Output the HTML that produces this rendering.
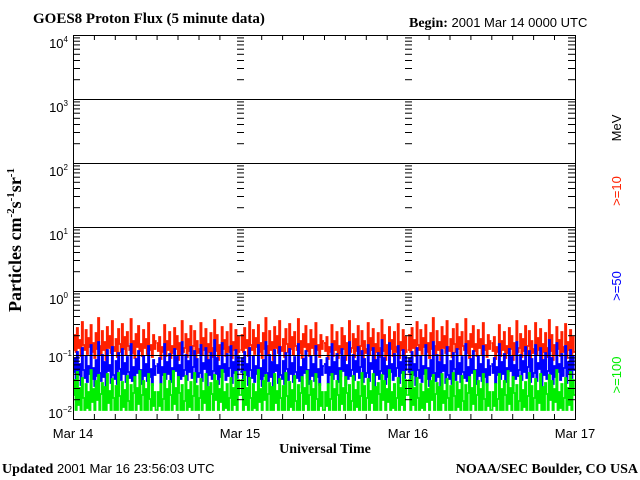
<!DOCTYPE html>
<html><head><style>
body{margin:0;background:#fff;}
svg{display:block;}
.s{font-family:"Liberation Sans",sans-serif;font-size:13px;}
.b{font-family:"Liberation Serif",serif;font-weight:bold;}
</style></head><body>
<svg width="640" height="480" xmlns="http://www.w3.org/2000/svg">
<defs>
<g id="tk" stroke="#000" stroke-width="1">
<line x1="0" x2="7" y1="-19.3" y2="-19.3"/><line x1="0" x2="7" y1="-30.5" y2="-30.5"/>
<line x1="0" x2="7" y1="-38.5" y2="-38.5"/><line x1="0" x2="7" y1="-44.7" y2="-44.7"/>
<line x1="0" x2="7" y1="-49.8" y2="-49.8"/><line x1="0" x2="7" y1="-54.1" y2="-54.1"/>
<line x1="0" x2="7" y1="-57.8" y2="-57.8"/><line x1="0" x2="7" y1="-61.1" y2="-61.1"/>
</g>
<g id="col"><use href="#tk" y="99"/><use href="#tk" y="163"/><use href="#tk" y="227"/><use href="#tk" y="291"/><use href="#tk" y="355"/><use href="#tk" y="419"/></g>
<path id="red" fill="none" stroke="#ff2000" stroke-width="1.7" vector-effect="non-scaling-stroke" d="M0,350h2.5V335h2.5V352h2.5V328h2.5V348h2.5V340h2.5V356h2.5V322h2.5V345h2.5V350h2.5V330h2.5V354h2.5V338h2.5V347h2.5V325h2.5V352h2.5V343h2.5V358h2.5V333h2.5V349h2.5V318h2.5V346h2.5V355h2.5V331h2.5V350h2.5V342h2.5V360h2.5V327h2.5V348h2.5V336h2.5V353h2.5V321h2.5V347h2.5V351h2.5V339h2.5V357h2.5V329h2.5V344h2.5V352h2.5V324h2.5V349h2.5V337h2.5V355h2.5V332h2.5V346h2.5V350h2.5V319h2.5V353h2.5V341h2.5V358h2.5V334h2.5V347h2.5V326h2.5V351h2.5V344h2.5V356h2.5V330h2.5V348h2.5V339h2.5V354h2.5V323h2.5V350h2.5V345h2.5V357h2.5V335h2.5V349h2.5V341h2.3"/>
<path id="blue" fill="none" stroke="#0000ff" stroke-width="1.7" vector-effect="non-scaling-stroke" d="M0,372h2.5V358h2.5V380h2.5V352h2.5V375h2.5V364h2.5V385h2.5V348h2.5V370h2.5V378h2.5V356h2.5V382h2.5V366h2.5V374h2.5V345h2.5V379h2.5V368h2.5V386h2.5V360h2.5V376h2.5V342h2.5V373h2.5V381h2.5V355h2.5V377h2.5V362h2.5V388h2.5V350h2.5V371h2.5V365h2.5V383h2.5V347h2.5V375h2.5V379h2.5V361h2.5V384h2.5V353h2.5V369h2.5V380h2.5V349h2.5V374h2.5V363h2.5V382h2.5V357h2.5V372h2.5V378h2.5V344h2.5V381h2.5V367h2.5V387h2.5V359h2.5V373h2.5V351h2.5V378h2.5V370h2.5V384h2.5V356h2.5V376h2.5V364h2.5V381h2.5V346h2.5V377h2.5V369h2.5V385h2.5V360h2.5V375h2.5V366h2.3"/>
<path id="green" fill="none" stroke="#00ee00" stroke-width="1.8" vector-effect="non-scaling-stroke" d="M0,395h2.5V380h2.5V410h2.5V372h2.5V405h2.5V388h2.5V410h2.5V378h2.5V398h2.5V410h2.5V384h2.5V408h2.5V392h2.5V410h2.5V370h2.5V402h2.5V389h2.5V410h2.5V381h2.5V400h2.5V375h2.5V410h2.5V394h2.5V383h2.5V410h2.5V387h2.5V410h2.5V374h2.5V403h2.5V391h2.5V410h2.5V379h2.5V398h2.5V410h2.5V386h2.5V410h2.5V373h2.5V396h2.5V410h2.5V382h2.5V407h2.5V390h2.5V410h2.5V376h2.5V401h2.5V410h2.5V385h2.5V410h2.5V393h2.5V377h2.5V410h2.5V388h2.5V404h2.5V371h2.5V410h2.5V395h2.5V381h2.5V410h2.5V389h2.5V410h2.5V374h2.5V399h2.5V410h2.5V384h2.5V406h2.5V392h2.5V410h2.3"/>
<g id="r2"><use href="#red" transform="translate(0,0) scale(0.5,1)"/><use href="#red" transform="translate(83.65,2) scale(-0.5,1) translate(-167.3,0)"/></g>
<g id="b2"><use href="#blue" transform="translate(0,0) scale(0.5,1)"/><use href="#blue" transform="translate(83.65,-2) scale(-0.5,1) translate(-167.3,0)"/></g>
<g id="g2"><use href="#green" transform="translate(0,0) scale(0.5,1)"/><use href="#green" transform="translate(83.65,0) scale(-0.5,1) translate(-167.3,0)"/></g>
</defs>
<rect width="640" height="480" fill="#fff"/>
<text x="33" y="23" class="b" font-size="15">GOES8 Proton Flux (5 minute data)</text>
<text x="409" y="27" class="s"><tspan class="b" font-size="14">Begin:</tspan> 2001 Mar 14 0000 UTC</text>
<use href="#r2" x="73"/><use href="#r2" x="240.3"/><use href="#r2" x="407.7"/>
<use href="#b2" x="73"/><use href="#b2" x="240.3"/><use href="#b2" x="407.7"/>
<use href="#g2" x="73"/><use href="#g2" x="240.3"/><use href="#g2" x="407.7"/>
<rect x="0" y="412" width="640" height="30" fill="#fff"/>
<rect x="576" y="300" width="30" height="120" fill="#fff"/>
<g stroke="#000" stroke-width="1" fill="none">
<rect x="73.5" y="35.5" width="502" height="384"/>
<path d="M73,99.5H576M73,163.5H576M73,227.5H576M73,291.5H576M73,355.5H576"/>
<path d="M94.4,35v5M115.3,35v5M136.2,35v5M157.1,35v5M178,35v5M199,35v5M219.9,35v5M261.7,35v5M282.6,35v5M303.5,35v5M324.5,35v5M345.4,35v5M366.3,35v5M387.2,35v5M429.1,35v5M450,35v5M470.9,35v5M491.8,35v5M512.7,35v5M533.6,35v5M554.5,35v5M94.4,419v-5M115.3,419v-5M136.2,419v-5M157.1,419v-5M178,419v-5M199,419v-5M219.9,419v-5M261.7,419v-5M282.6,419v-5M303.5,419v-5M324.5,419v-5M345.4,419v-5M366.3,419v-5M387.2,419v-5M429.1,419v-5M450,419v-5M470.9,419v-5M491.8,419v-5M512.7,419v-5M533.6,419v-5M554.5,419v-5"/>
</g>
<use href="#col" x="73"/><use href="#col" x="568"/><use href="#col" x="237"/><use href="#col" x="405"/>
<g class="s" font-size="13" text-anchor="end">
<text x="68" y="48">10<tspan font-size="8" dy="-6">4</tspan></text>
<text x="68" y="112">10<tspan font-size="8" dy="-6">3</tspan></text>
<text x="68" y="176">10<tspan font-size="8" dy="-6">2</tspan></text>
<text x="68" y="240">10<tspan font-size="8" dy="-6">1</tspan></text>
<text x="68" y="304">10<tspan font-size="8" dy="-6">0</tspan></text>
<text x="72" y="362">10<tspan font-size="8" dy="-6">−1</tspan></text>
<text x="72" y="418">10<tspan font-size="8" dy="-6">−2</tspan></text>
</g>
<g class="s" text-anchor="middle">
<text x="73" y="438">Mar 14</text>
<text x="240" y="438">Mar 15</text>
<text x="408" y="438">Mar 16</text>
<text x="575" y="438">Mar 17</text>
</g>
<text x="325" y="453" class="b" font-size="14" text-anchor="middle">Universal Time</text>
<text x="2" y="473" class="s"><tspan class="b" font-size="14">Updated</tspan> 2001 Mar 16 23:56:03 UTC</text>
<text x="638" y="473" class="b" font-size="14" text-anchor="end">NOAA/SEC Boulder, CO USA</text>
<text transform="translate(21,240) rotate(-90)" class="b" font-size="18" text-anchor="middle">Particles cm<tspan font-size="11" dy="-7">-2</tspan><tspan dy="7">s</tspan><tspan font-size="11" dy="-7">-1</tspan><tspan dy="7">sr</tspan><tspan font-size="11" dy="-7">-1</tspan></text>
<g class="s" font-size="14" text-anchor="middle">
<text transform="translate(621,128) rotate(-90)" fill="#000">MeV</text>
<text transform="translate(621,191) rotate(-90)" fill="#ff2000">&gt;=10</text>
<text transform="translate(621,286) rotate(-90)" fill="#0000ff">&gt;=50</text>
<text transform="translate(621,375) rotate(-90)" fill="#00ee00">&gt;=100</text>
</g>
</svg>
</body></html>
